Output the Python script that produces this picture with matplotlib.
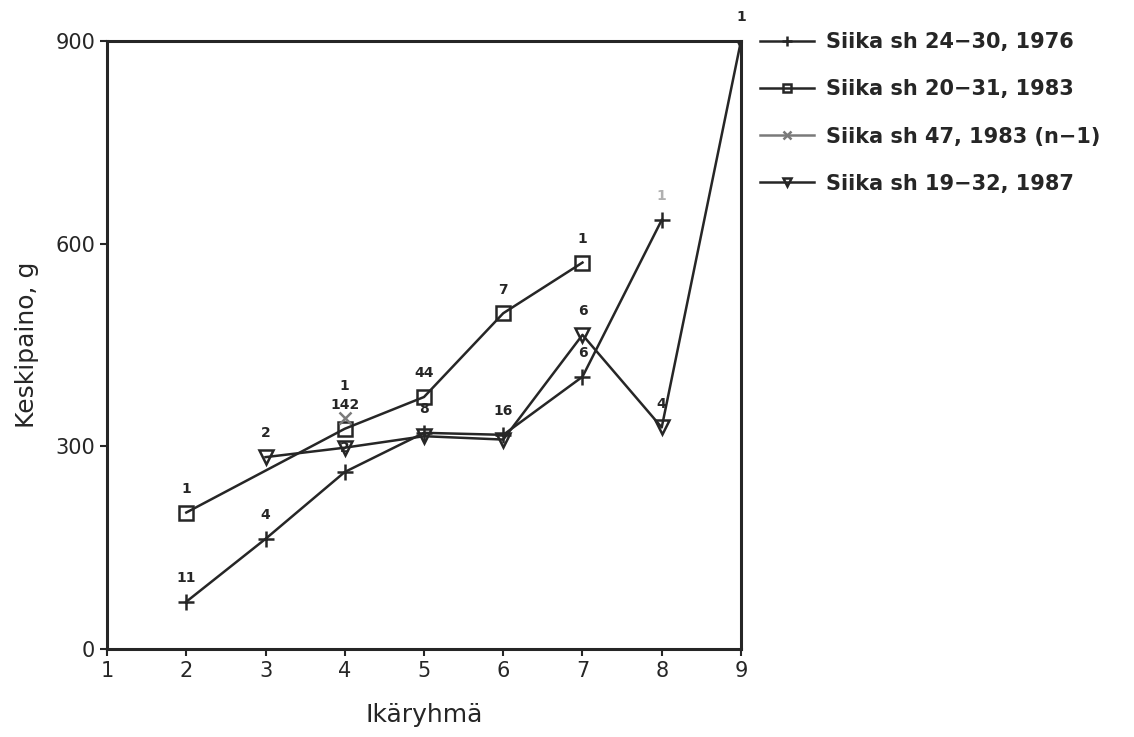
import matplotlib
matplotlib.use('Agg')
import matplotlib.pyplot as plt

# ── data ──────────────────────────────────────────────────────────────────────
x_1976 = [2, 3, 4, 5, 6, 7, 8]
y_1976 = [70, 163, 262, 320, 317, 403, 635]
n_1976 = ['11', '4', '2', '8', '16', '6', '1']

x_1983 = [2, 4, 5, 6, 7]
y_1983 = [202, 326, 373, 497, 572]
n_1983 = ['1', '142', '44', '7', '1']

x_1983b = [4]
y_1983b = [342]
n_1983b = ['1']

x_1987 = [3, 4, 5, 6, 7, 8, 9]
y_1987 = [284, 298, 315, 310, 465, 328, 900]
n_1987 = ['2', '', '', '', '6', '4', '1']

labels = ['Siika sh 24\u221230, 1976', 'Siika sh 20\u221231, 1983',
          'Siika sh 47, 1983 (n\u22121)', 'Siika sh 19\u221232, 1987']

# ── style ─────────────────────────────────────────────────────────────────────
DARK = '#262626'
GREY = '#7a7a7a'
plt.rcParams.update({
    'font.family': 'DejaVu Sans',
})

fig = plt.figure(figsize=(11.34, 7.37), dpi=100)
ax = fig.add_axes([0.0944, 0.1194, 0.559, 0.825])

ax.plot(x_1976, y_1976, '+-', color=DARK, lw=1.8, ms=12, mew=1.8, label=labels[0])
ax.plot(x_1983, y_1983, 's-', color=DARK, lw=1.8, ms=10, mew=1.8,
        mfc='none', label=labels[1])
ax.plot(x_1983b, y_1983b, 'x-', color=GREY, lw=1.8, ms=9, mew=1.8, label=labels[2])
ax.plot(x_1987, y_1987, 'v-', color=DARK, lw=1.8, ms=10, mew=1.8,
        mfc='none', label=labels[3])

# sample size labels
def put_labels(xs, ys, ns, color=DARK, off=12):
    for xv, yv, t in zip(xs, ys, ns):
        if t:
            ax.annotate(t, (xv, yv), xytext=(0, off), textcoords='offset points',
                        ha='center', va='bottom', fontsize=10, color=color,
                        fontweight='bold')

put_labels(x_1976[:-1], y_1976[:-1], n_1976[:-1])
put_labels(x_1976[-1:], y_1976[-1:], n_1976[-1:], color='#b0b0b0')
put_labels(x_1983, y_1983, n_1983)
put_labels(x_1983b, y_1983b, n_1983b, off=18)
put_labels(x_1987, y_1987, n_1987)

ax.set_xlim(1, 9)
ax.set_ylim(0, 900)
ax.set_xticks(range(1, 10))
ax.set_yticks([0, 300, 600, 900])
ax.tick_params(direction='out', length=5, width=1.5, labelsize=15, colors=DARK)
for s in ax.spines.values():
    s.set_linewidth(2.2)
    s.set_color(DARK)

ax.set_xlabel('Ikäryhmä', fontsize=18, color=DARK, labelpad=16)
ax.set_ylabel('Keskipaino, g', fontsize=18, color=DARK, labelpad=12)

leg = ax.legend(loc='upper left', bbox_to_anchor=(1.0, 1.045), frameon=False,
                prop={'size': 15, 'weight': 'bold'}, handlelength=2.6,
                labelspacing=1.3, handletextpad=0.6, markerscale=0.6)
for txt in leg.get_texts():
    txt.set_color(DARK)

fig.savefig('out.png', dpi=100)
